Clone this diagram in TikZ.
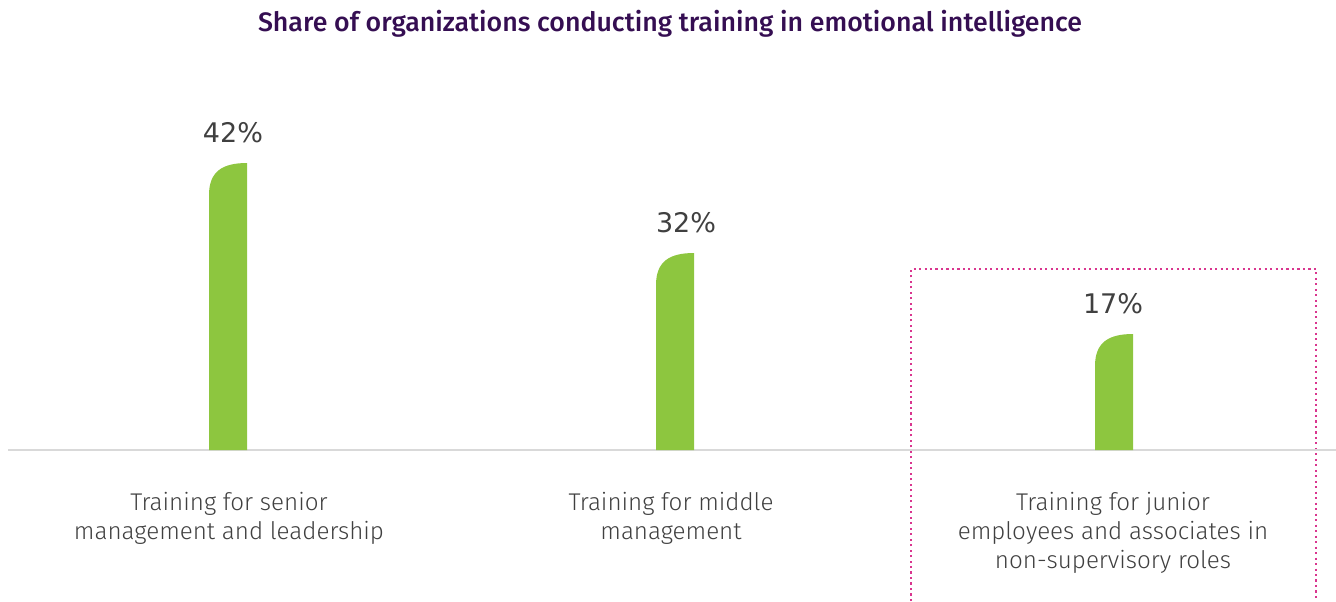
\documentclass[tikz,border=0pt]{standalone}
\usepackage{fontspec}
\setmainfont{Fira Sans Light}
\newfontfamily\titlefont{Fira Sans Medium}
\newfontfamily\valuefont{DejaVu Sans}
\usetikzlibrary{positioning}
\definecolor{barGreen}{HTML}{8DC63F}
\definecolor{titlePurple}{HTML}{350E52}
\definecolor{labelGray}{HTML}{404040}
\definecolor{axisGray}{HTML}{D9D9D9}
\definecolor{boxMagenta}{HTML}{D9368F}
\tikzset{
  valuelabel/.style={font=\valuefont\fontsize{19.2}{21}\selectfont, text=labelGray, inner sep=0pt},
  catlabel/.style={font=\fontsize{17.2}{20.6}\selectfont, text=labelGray, align=center, inner sep=0pt, anchor=north},
  greenbar/.style={fill=barGreen, draw=none},
}

\begin{document}
\begin{tikzpicture}[x=0.025cm, y=-0.025cm]
    \useasboundingbox (0,0) rectangle (1336,601);
    \node[font=\titlefont\fontsize{19}{22}\selectfont, text=titlePurple] (title) at (670, 23.5) {Share of organizations conducting training in emotional intelligence};
    % highlight box, open at the bottom
    \coordinate (boxbl) at (911, 601);
    \coordinate (boxtr) at (1316, 269);
    \draw[boxMagenta, line width=1.5pt, dash pattern=on 1.5pt off 2.4pt] (boxbl) |- (boxtr) -- (boxtr |- boxbl);
    % axis
    \coordinate (axisL) at (8, 450);
    \coordinate (axisR) at (1336, 450);
    \draw[axisGray, line width=1pt] (axisL) -- (axisR);
    % bars
    \foreach \x/\top/\lx/\val/\name in {209/163/233/42/sen, 656/253/686/32/mid, 1095/334/1113/17/jun} {
        \fill[greenbar] (\x, 450) -- (\x, \top+32) .. controls (\x, \top+8) and (\x+14, \top) .. (\x+38, \top) -- (\x+38, 450) -- cycle;
        \node[valuelabel] (val\name) at (\lx, \top-30) {\val\%};
    }
    \node[catlabel] (catsen) at (229, 492) {Training for senior\\management and leadership};
    \node[catlabel] (catmid) at (671, 492) {Training for middle\\management};
    \node[catlabel] (catjun) at (1113, 492) {Training for junior\\employees and associates in\\non-supervisory roles};
\end{tikzpicture}
\end{document}
